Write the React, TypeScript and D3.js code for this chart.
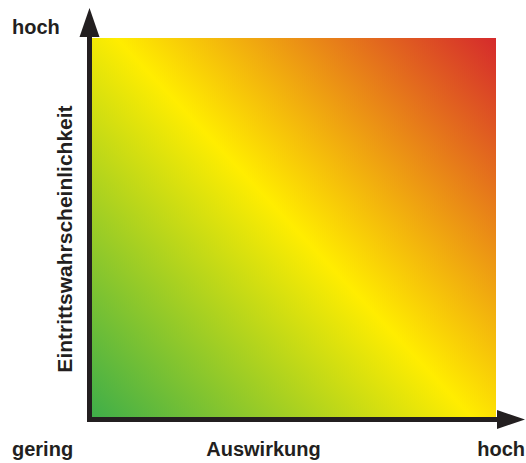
import React from "react";
import * as d3 from "d3";

const gradientStops = [
  { offset: 0, color: "#3fae49" },
  { offset: 0.5, color: "#ffed00" },
  { offset: 1, color: "#d52a2c" },
];
const xLabels = ["gering", "Auswirkung", "hoch"];
const yLabels = ["hoch", "Eintrittswahrscheinlichkeit"];

const W = 526;
const H = 463;
const INK = "#231f20";
const FONT = "'Liberation Sans', Arial, Helvetica, sans-serif";

export default function App() {
  const x = d3.scaleLinear().domain([0, 1]).range([92, 496]);
  const y = d3.scaleLinear().domain([0, 1]).range([417, 38]);

  const axisX = 89.5;
  const axisY = 419.5;

  const vArrow = d3.line()([
    [axisX, 8],
    [axisX - 10, 37],
    [axisX + 10, 37],
  ]) + "Z";
  const hArrow = d3.line()([
    [525, axisY],
    [497, axisY - 9.5],
    [497, axisY + 9.5],
  ]) + "Z";

  return (
    <svg
      width={W}
      height={H}
      style={{ position: "absolute", left: 0, top: 0 }}
      viewBox={`0 0 ${W} ${H}`}
    >
      <defs>
        <linearGradient
          id="risk"
          gradientUnits="userSpaceOnUse"
          x1={x(0)}
          y1={y(0)}
          x2={x(1)}
          y2={y(1)}
        >
          {gradientStops.map((s) => (
            <stop key={s.offset} offset={s.offset} stopColor={s.color} />
          ))}
        </linearGradient>
      </defs>
      <rect
        x={x(0)}
        y={y(1)}
        width={x(1) - x(0)}
        height={y(0) - y(1)}
        fill="url(#risk)"
      />
      <line x1={axisX} y1={30} x2={axisX} y2={axisY + 2.5} stroke={INK} strokeWidth={5} />
      <line x1={axisX - 2.5} y1={axisY} x2={500} y2={axisY} stroke={INK} strokeWidth={5} />
      <path d={vArrow} fill={INK} />
      <path d={hArrow} fill={INK} />

      <g fontFamily={FONT} fontWeight="bold" fontSize={20} fill={INK}>
        <text x={12} y={34}>{yLabels[0]}</text>
        <text x={12} y={456}>{xLabels[0]}</text>
        <text x={263.5} y={456} textAnchor="middle">{xLabels[1]}</text>
        <text x={525} y={456} textAnchor="end">{xLabels[2]}</text>
        <text
          transform={`translate(72,239) rotate(-90)`}
          textAnchor="middle"
          fontSize={21}
        >
          {yLabels[1]}
        </text>
      </g>
    </svg>
  );
}
